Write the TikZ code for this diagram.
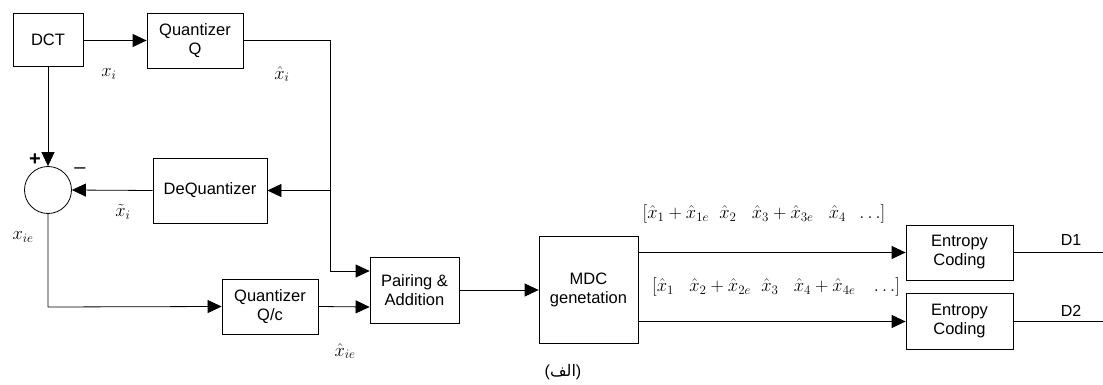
\RequirePackage{fix-cm}
\documentclass[tikz,border=0pt]{standalone}
\usepackage[no-math]{fontspec}
\setmainfont{Liberation Sans}
\newfontfamily\arabicfont[Script=Arabic]{DejaVu Sans}
\TeXXeTstate=1
\usetikzlibrary{arrows.meta,calc}
\tikzset{
  blk/.style={draw, line width=0.8pt, align=center, inner sep=0pt, font=\fontsize{16.5}{19}\selectfont},
  lbl/.style={inner sep=0pt, font=\fontsize{16}{18}\selectfont},
  mlbl/.style={inner sep=0pt, font=\fontsize{18.5}{20}\selectfont},
  wire/.style={line width=0.8pt},
  arr/.style={line width=0.8pt, -{Triangle[length=14pt,width=13pt]}},
}
\begin{document}
\begin{tikzpicture}[x=1pt,y=-1pt]
\useasboundingbox (0,0) rectangle (1103,385);
% blocks
\node[blk, minimum width=70pt, minimum height=53pt] (dct) at (48,40) {DCT};
\node[blk, minimum width=96pt, minimum height=55pt] (qq) at (195,40.5) {Quantizer\\Q};
\node[blk, minimum width=114pt, minimum height=65pt] (deq) at (210,190.5) {DeQuantizer};
\node[draw, line width=0.8pt, circle, minimum size=47pt, inner sep=0pt] (sum) at (48,190) {};
\node[blk, minimum width=96pt, minimum height=55pt] (qqc) at (270,306.5) {Quantizer\\Q/c};
\node[blk, minimum width=89pt, minimum height=66pt] (pair) at (414.5,290) {Pairing \&\\Addition};
\node[blk, minimum width=99pt, minimum height=107pt] (mdc) at (588.5,289.5) {MDC\\genetation};
\node[blk, minimum width=107pt, minimum height=55pt] (e1) at (959.5,252.5) {Entropy\\Coding};
\node[blk, minimum width=107pt, minimum height=56pt] (e2) at (959.5,321.5) {Entropy\\Coding};
% coordinates
\coordinate (jtop) at (330,40.5);
\coordinate (jmid) at (330,190.5);
\coordinate (p1) at (pair.west |- 0,271);
\coordinate (p2) at (pair.west |- 0,307);
\coordinate (sumdown) at (48,307);
\coordinate (d1) at (1103,252.5);
\coordinate (d2) at (1103,321.5);
% connectors
\draw[arr] (dct.east |- qq.west) -- (qq.west);
\draw[wire] (qq.east) -- (jtop) -- (jmid);
\draw[arr] (jmid) |- (p1);
\draw[arr] (jmid) -- (deq.east);
\draw[arr] (deq.west) -- (sum.east);
\draw[arr] (dct.south) -- (sum.north);
\draw[arr] (sum.south) -- (sumdown) -- (qqc.west);
\draw[arr] (qqc.east) -- (p2);
\draw[arr] (pair.east) -- (mdc.west |- pair.east);
\draw[arr] (mdc.east |- e1.west) -- (e1.west);
\draw[arr] (mdc.east |- e2.west) -- (e2.west);
\draw[wire] (e1.east) -- (d1);
\draw[wire] (e2.east) -- (d2);
% labels
\node[mlbl] (lxi) at (109,74) {$x_i$};
\node[mlbl] (lxhi) at (282,74) {$\hat{x}_i$};
\node[mlbl] (lxti) at (123,212) {$\tilde{x}_i$};
\node[mlbl] (lxie) at (23,237) {$x_{ie}$};
\node[mlbl] (lxhie) at (345,351) {$\hat{x}_{ie}$};
\node[lbl, font=\fontsize{20}{20}\selectfont\bfseries] (plus) at (35,160) {+};
\node[lbl, font=\fontsize{20}{20}\selectfont] (minus) at (80,171) {\textendash};
\node[mlbl] (t1) at (764,214) {$[\hat{x}_1+\hat{x}_{1e}\;\;\hat{x}_2\;\;\;\hat{x}_3+\hat{x}_{3e}\;\;\;\hat{x}_4\;\;\ldots]$};
\node[mlbl] (t2) at (776,287) {$[\hat{x}_1\;\;\;\hat{x}_2+\hat{x}_{2e}\;\;\hat{x}_3\;\;\;\hat{x}_4+\hat{x}_{4e}\;\;\;\ldots]$};
\node[lbl] (ld1) at (1071,240) {D1};
\node[lbl] (ld2) at (1071,311) {D2};
\node[lbl] (cap) at (563,372) {({\arabicfont الف})};
\end{tikzpicture}
\end{document}
